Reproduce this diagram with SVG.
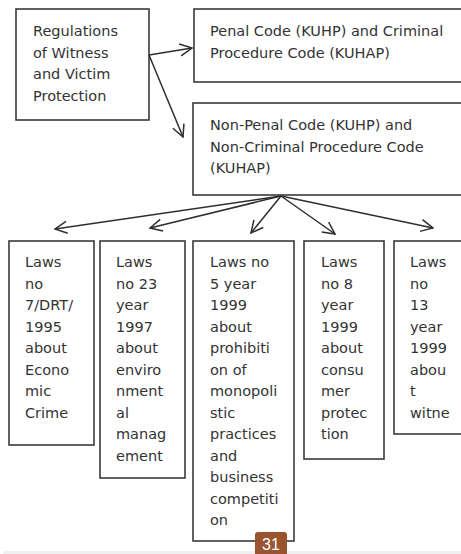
<svg xmlns="http://www.w3.org/2000/svg" width="461" height="554" viewBox="0 0 461 554">
<style>
.box{fill:#fff;stroke:#3a3a3a;stroke-width:1.6}
.t{font-family:"DejaVu Sans",Verdana,sans-serif;font-size:14.5px;fill:#333}
.c{fill:none;stroke:#2e2e2e;stroke-width:1.5}
</style>
<defs>
<marker id="ah" viewBox="0 0 14 14" refX="13" refY="7" markerWidth="14" markerHeight="14" markerUnits="userSpaceOnUse" orient="auto">
<path d="M1,1 L13,7 L1,13" fill="none" stroke="#2e2e2e" stroke-width="1.5"/>
</marker>
</defs>
<rect width="461" height="554" fill="#fff"/>
<g id="n-regulations">
<rect class="box" x="16" y="9" width="133" height="111"/>
<text class="t" x="33" y="36">Regulations</text>
<text class="t" x="33" y="57.5">of Witness</text>
<text class="t" x="33" y="79">and Victim</text>
<text class="t" x="33" y="100.5">Protection</text>
</g>
<g id="n-penal">
<rect class="box" x="194" y="9" width="280" height="73"/>
<text class="t" x="210" y="36">Penal Code (KUHP) and Criminal</text>
<text class="t" x="210" y="57.5">Procedure Code (KUHAP)</text>
</g>
<g id="n-nonpenal">
<rect class="box" x="193" y="103" width="280" height="92"/>
<text class="t" x="210" y="130">Non-Penal Code (KUHP) and</text>
<text class="t" x="210" y="151.5">Non-Criminal Procedure Code</text>
<text class="t" x="210" y="173">(KUHAP)</text>
</g>
<g id="n-law7">
<rect class="box" x="9" y="241" width="85" height="204"/>
<text class="t" x="25" y="267">Laws</text>
<text class="t" x="25" y="288.5">no</text>
<text class="t" x="25" y="310">7/DRT/</text>
<text class="t" x="25" y="331.5">1995</text>
<text class="t" x="25" y="353">about</text>
<text class="t" x="25" y="374.5">Econo</text>
<text class="t" x="25" y="396">mic</text>
<text class="t" x="25" y="417.5">Crime</text>
</g>
<g id="n-law23">
<rect class="box" x="100" y="241" width="85" height="237"/>
<text class="t" x="116" y="267">Laws</text>
<text class="t" x="116" y="288.5">no 23</text>
<text class="t" x="116" y="310">year</text>
<text class="t" x="116" y="331.5">1997</text>
<text class="t" x="116" y="353">about</text>
<text class="t" x="116" y="374.5">enviro</text>
<text class="t" x="116" y="396">nment</text>
<text class="t" x="116" y="417.5">al</text>
<text class="t" x="116" y="439">manag</text>
<text class="t" x="116" y="460.5">ement</text>
</g>
<g id="n-law5">
<rect class="box" x="193" y="241" width="101" height="300"/>
<text class="t" x="210" y="267">Laws no</text>
<text class="t" x="210" y="288.5">5 year</text>
<text class="t" x="210" y="310">1999</text>
<text class="t" x="210" y="331.5">about</text>
<text class="t" x="210" y="353">prohibiti</text>
<text class="t" x="210" y="374.5">on of</text>
<text class="t" x="210" y="396">monopoli</text>
<text class="t" x="210" y="417.5">stic</text>
<text class="t" x="210" y="439">practices</text>
<text class="t" x="210" y="460.5">and</text>
<text class="t" x="210" y="482">business</text>
<text class="t" x="210" y="503.5">competiti</text>
<text class="t" x="210" y="525">on</text>
</g>
<g id="n-law8">
<rect class="box" x="304" y="241" width="80" height="218"/>
<text class="t" x="321" y="267">Laws</text>
<text class="t" x="321" y="288.5">no 8</text>
<text class="t" x="321" y="310">year</text>
<text class="t" x="321" y="331.5">1999</text>
<text class="t" x="321" y="353">about</text>
<text class="t" x="321" y="374.5">consu</text>
<text class="t" x="321" y="396">mer</text>
<text class="t" x="321" y="417.5">protec</text>
<text class="t" x="321" y="439">tion</text>
</g>
<g id="n-law13">
<rect class="box" x="394" y="241" width="80" height="193"/>
<text class="t" x="410" y="267">Laws</text>
<text class="t" x="410" y="288.5">no</text>
<text class="t" x="410" y="310">13</text>
<text class="t" x="410" y="331.5">year</text>
<text class="t" x="410" y="353">1999</text>
<text class="t" x="410" y="374.5">abou</text>
<text class="t" x="410" y="396">t</text>
<text class="t" x="410" y="417.5">witne</text>
</g>
<g id="connectors">
<line class="c" x1="149" y1="55" x2="192" y2="48" marker-end="url(#ah)"/>
<line class="c" x1="149" y1="55" x2="183" y2="137" marker-end="url(#ah)"/>
<line class="c" x1="281" y1="196" x2="55" y2="229" marker-end="url(#ah)"/>
<line class="c" x1="281" y1="196" x2="150" y2="228" marker-end="url(#ah)"/>
<line class="c" x1="281" y1="196" x2="251" y2="233" marker-end="url(#ah)"/>
<line class="c" x1="281" y1="196" x2="335" y2="234" marker-end="url(#ah)"/>
<line class="c" x1="281" y1="196" x2="433" y2="228" marker-end="url(#ah)"/>
</g>
<g id="footer">
<rect x="3" y="551" width="458" height="3" fill="#f0f0f0"/>
<path d="M255,554 L255,535 Q255,532 258,532 L284,532 Q287,532 287,535 L287,554 Z" fill="#9a5530"/>
<text x="271" y="550" text-anchor="middle" font-family="Liberation Sans,Arial,sans-serif" font-size="16" fill="#fff">31</text>
</g>
</svg>
